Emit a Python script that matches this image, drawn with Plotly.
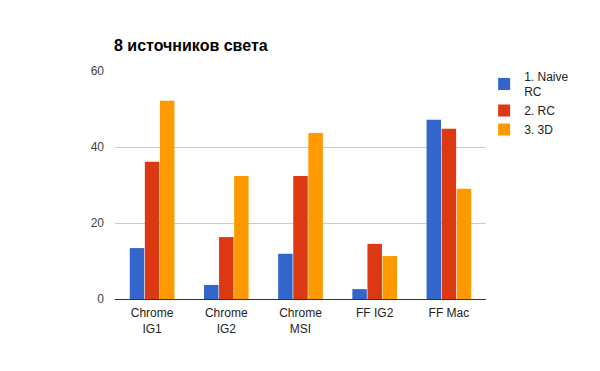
import plotly.graph_objects as go

categories = ["Chrome<br>IG1", "Chrome<br>IG2", "Chrome<br>MSI", "FF IG2", "FF Mac"]
series_names = ["1. Naive<br>RC", "2. RC", "3. 3D"]
naive_rc = [13.4, 3.7, 11.9, 2.6, 47.2]
rc = [36.1, 16.3, 32.4, 14.5, 44.8]
d3 = [52.2, 32.4, 43.7, 11.3, 29.0]
colors = ["#3366cc", "#dc3912", "#ff9900"]
y_ticks = [0, 20, 40, 60]

W, H = 592, 363  # page body has an 8px default margin

fig = go.Figure()
for name, vals, c in zip(series_names, [naive_rc, rc, d3], colors):
    fig.add_trace(go.Bar(x=categories, y=vals, name=name, marker=dict(color=c, line=dict(width=0))))

fig.update_layout(
    width=W, height=H,
    paper_bgcolor="white", plot_bgcolor="white",
    margin=dict(l=107, r=114, t=63, b=72),
    barmode="group", bargap=0.39, bargroupgap=0.04,
    font=dict(family="Liberation Sans, Arial, sans-serif", size=12, color="#222222"),
    title=dict(text="<b>8 источников света</b>", x=106/W, xanchor="left", y=1-37/H, yanchor="middle",
               font=dict(size=16, color="#000000")),
    legend=dict(x=0.995, xanchor="left", y=1.04, yanchor="top", font=dict(size=12, color="#222222"),
                bgcolor="rgba(0,0,0,0)", tracegroupgap=0, itemwidth=30),
    showlegend=True,
)
fig.update_xaxes(showgrid=False, showline=True, linecolor="#333333", linewidth=1, ticks="",
                 ticklabelstandoff=3, tickfont=dict(color="#222222", size=12))
fig.update_yaxes(range=[0, 60], tickvals=y_ticks, showgrid=True, gridcolor="#cccccc", gridwidth=1,
                 zeroline=False, showline=False, ticks="", ticklabelstandoff=10,
                 tickfont=dict(color="#444444", size=12))

fig.write_html("out.html")
